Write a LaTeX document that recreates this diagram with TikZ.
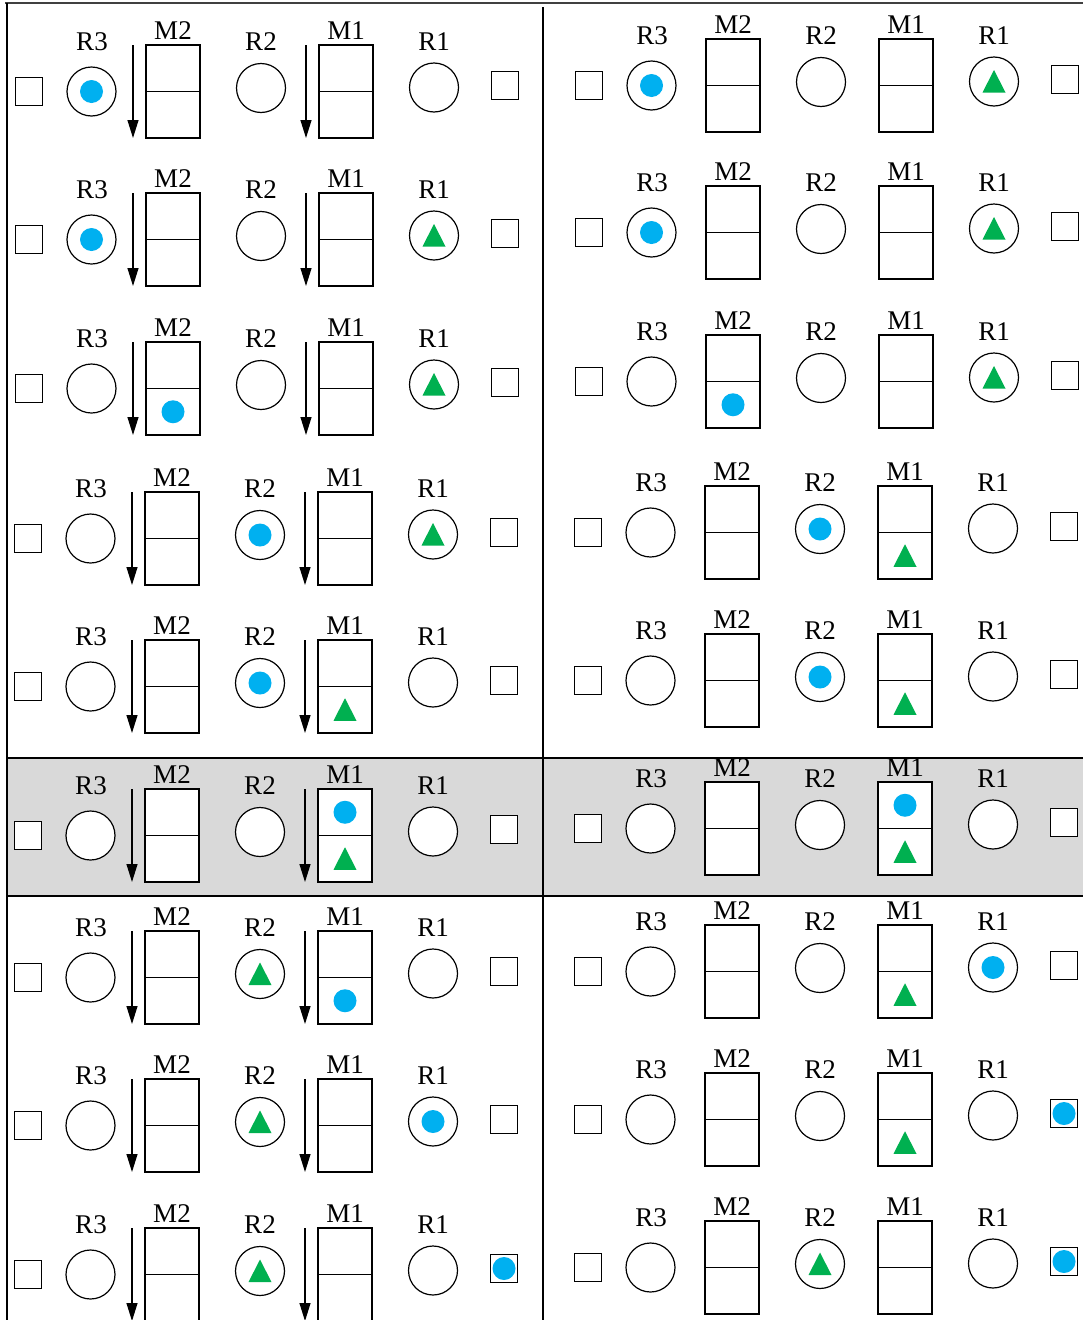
\documentclass[tikz,border=0pt]{standalone}
\usepackage{fontspec}
\setmainfont{Liberation Serif}
\usetikzlibrary{arrows.meta}
\definecolor{bl}{HTML}{00B0F0}
\definecolor{gn}{HTML}{00B050}
\definecolor{bandgray}{HTML}{D9D9D9}
\definecolor{framegray}{HTML}{404040}
\tikzset{
  shp/.style={draw, line width=1.2pt, fill=white, inner sep=0pt},
  sq/.style={shp, minimum size=27.5pt},
  rc/.style={shp, circle, minimum size=49pt},
  half/.style={shp, minimum width=54pt, minimum height=46.5pt},
  lab/.style={inner sep=0pt, font=\fontsize{27}{30}\selectfont},
  bdot/.style={circle, fill=bl, minimum size=23pt, inner sep=0pt},
  arr/.style={line width=1.2pt, -{Triangle[length=18pt,width=11pt]}},
  gtri/.style={fill=gn},
  frame/.style={line width=1.2pt},
}
\newcommand\stage[4]{%
\begin{scope}[shift={(#2,#3)}]
\node[sq] (#1sqL) at (-117,46.5) {};
\node[rc] (#1R3) at (-54.5,46.5) {};
\node[lab] (#1R3lab) at (-54,-3) {R3};
\node[half] (#1M2t) at (27,23.25) {};
\node[half] (#1M2b) at (27,69.75) {};
\node[lab] (#1M2lab) at (27,-14.5) {M2};
\node[rc] (#1R2) at (115,43) {};
\node[lab] (#1R2lab) at (115,-3) {R2};
\node[half] (#1M1t) at (200,23.25) {};
\node[half] (#1M1b) at (200,69.75) {};
\node[lab] (#1M1lab) at (200,-14.5) {M1};
\node[rc] (#1R1) at (288,42.5) {};
\node[lab] (#1R1lab) at (288,-3) {R1};
\node[sq] (#1sqR) at (359,40.5) {};
\ifnum#4=1
\coordinate (#1a1s) at (-13,0); \coordinate (#1a1e) at (-13,93);
\draw[arr] (#1a1s) -- (#1a1e);
\coordinate (#1a2s) at (160,0); \coordinate (#1a2e) at (160,93);
\draw[arr] (#1a2s) -- (#1a2e);
\fi
\end{scope}}
\newcommand\bdot[1]{\node[bdot] (#1dot) at (#1.center) {};}
\newcommand\gtri[1]{\fill[gtri] ([shift={(0,-11.5)}]#1.center) -- ([shift={(11.5,11)}]#1.center) -- ([shift={(-11.5,11)}]#1.center) -- cycle;}
\begin{document}
\begin{tikzpicture}[x=1pt,y=-1pt]
\useasboundingbox (0,0) rectangle (1083,1320);
\clip (0,0) rectangle (1083,1320);
% shaded band
\fill[bandgray] (7,758) rectangle (1083,896);
\coordinate (bandTL) at (7,758); \coordinate (bandTR) at (1083,758);
\coordinate (bandBL) at (7,896); \coordinate (bandBR) at (1083,896);
\draw[frame] (bandTL) -- (bandTR);
\draw[frame] (bandBL) -- (bandBR);
% frame
\coordinate (topL) at (5,3); \coordinate (topR) at (1083,3);
\draw[line width=2pt, framegray] (topL) -- (topR);
\coordinate (leftT) at (7,3); \coordinate (leftB) at (7,1320);
\draw[frame] (leftT) -- (leftB);
\coordinate (midT) at (543,7); \coordinate (midB) at (543,1320);
\draw[frame] (midT) -- (midB);
% left panel
\stage{La}{146}{45}{1}
\stage{Lb}{146}{193}{1}
\stage{Lc}{146}{342}{1}
\stage{Ld}{145}{492}{1}
\stage{Le}{145}{640}{1}
\stage{Lf}{145}{789}{1}
\stage{Lg}{145}{931}{1}
\stage{Lh}{145}{1079}{1}
\stage{Li}{145}{1228}{1}
% right panel
\stage{Ra}{706}{39}{0}
\stage{Rb}{706}{186}{0}
\stage{Rc}{706}{335}{0}
\stage{Rd}{705}{486}{0}
\stage{Re}{705}{634}{0}
\stage{Rf}{705}{782}{0}
\stage{Rg}{705}{925}{0}
\stage{Rh}{705}{1073}{0}
\stage{Ri}{705}{1221}{0}
% contents left
\bdot{LaR3}
\bdot{LbR3} \gtri{LbR1}
\bdot{LcM2b} \gtri{LcR1}
\bdot{LdR2} \gtri{LdR1}
\bdot{LeR2} \gtri{LeM1b}
\bdot{LfM1t} \gtri{LfM1b}
\gtri{LgR2} \bdot{LgM1b}
\gtri{LhR2} \bdot{LhR1}
\gtri{LiR2} \bdot{LisqR}
% contents right
\bdot{RaR3} \gtri{RaR1}
\bdot{RbR3} \gtri{RbR1}
\bdot{RcM2b} \gtri{RcR1}
\bdot{RdR2} \gtri{RdM1b}
\bdot{ReR2} \gtri{ReM1b}
\bdot{RfM1t} \gtri{RfM1b}
\bdot{RgR1} \gtri{RgM1b}
\gtri{RhM1b} \bdot{RhsqR}
\gtri{RiR2} \bdot{RisqR}
\end{tikzpicture}
\end{document}
